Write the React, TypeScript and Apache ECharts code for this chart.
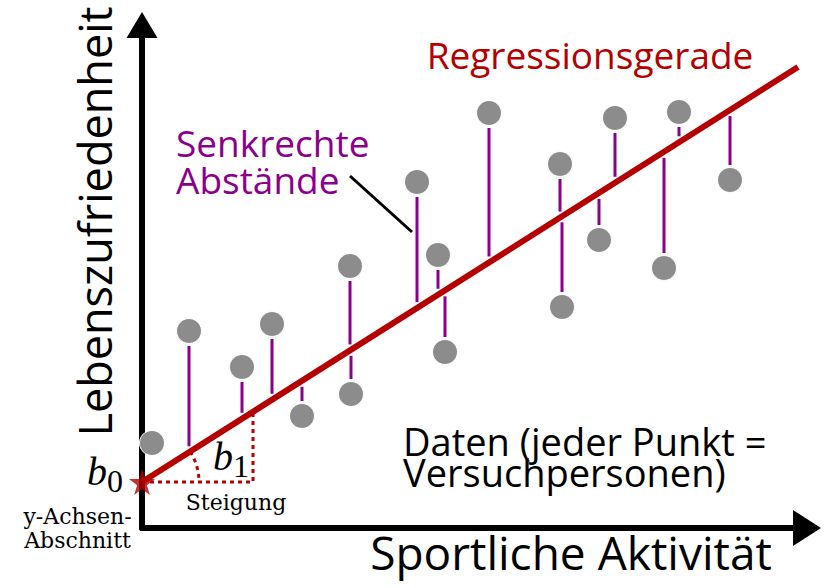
import React, { useEffect, useRef } from "react";
import * as echarts from "echarts";

// Data (illustrative units: activity on x, life satisfaction on y)
const pointX = [10, 47, 100, 130, 160, 208, 209, 275, 296, 303, 347, 418, 420, 457, 473, 522, 537, 588];
const pointY = [85, 197, 161, 204, 112, 262, 134, 346, 273, 176, 415, 364, 221, 288, 410, 260, 416, 348];
const stemFlags = [0, 1, 1, 1, 1, 1, 1, 1, 1, 1, 1, 1, 1, 1, 1, 1, 1, 1];
const intercept = 46; // b0
const slope = 0.6326; // b1
const regLineX = [0, 656];
const slopeTriangleX = [0, 111];
const xRange = [0, 665];
const yRange = [0, 503];

const RED = "#b40000";
const PURPLE = "#8b008b";
const GRAY = "#8c8c8c";
const SANS = "'Open Sans', sans-serif";
const SERIF = "'DejaVu Serif', serif";
const LSERIF = "'Liberation Serif', serif";

const fit = (x: number) => intercept + slope * x;

export default function App() {
  const ref = useRef<HTMLDivElement>(null);
  useEffect(() => {
    if (!ref.current) return;
    const chart = echarts.init(ref.current, null, { renderer: "svg" });
    const points = pointX.map((x, i) => [x, pointY[i]]);
    const stems = points.filter((_, i) => stemFlags[i]);
    const regLine = regLineX.map((x) => [x, fit(x)]);
    const tri = [
      [slopeTriangleX[0], intercept],
      [slopeTriangleX[1], intercept],
      [slopeTriangleX[1], fit(slopeTriangleX[1])],
    ];
    const starPath =
      "path://M50,0 L61,35 L98,35 L68,57 L79,91 L50,70 L21,91 L32,57 L2,35 L39,35 Z";

    const txt = (
      text: string,
      x: number,
      y: number,
      size: number,
      fill: string,
      align: string,
      family = SANS,
      extra: any = {}
    ) => ({
      type: "text",
      x,
      y,
      silent: true,
      rotation: extra.rotation || 0,
      style: {
        text,
        fill,
        fontSize: size,
        fontFamily: family,
        fontStyle: extra.fontStyle || "normal",
        lineHeight: extra.lineHeight,
        textAlign: align,
        textVerticalAlign: "middle",
        verticalAlign: "middle",
      },
    });

    chart.setOption({
      animation: false,
      grid: { left: 142, right: 20, top: 25, bottom: 60, containLabel: false },
      xAxis: {
        type: "value",
        min: xRange[0],
        max: xRange[1],
        axisLine: {
          show: true,
          lineStyle: { color: "#000", width: 6 },
          symbol: ["none", "triangle"],
          symbolSize: [36, 28],
        },
        axisTick: { show: false },
        axisLabel: { show: false },
        splitLine: { show: false },
      },
      yAxis: {
        type: "value",
        min: yRange[0],
        max: yRange[1],
        axisLine: {
          show: true,
          lineStyle: { color: "#000", width: 6 },
          symbol: ["none", "triangle"],
          symbolSize: [31, 26],
        },
        axisTick: { show: false },
        axisLabel: { show: false },
        splitLine: { show: false },
      },
      series: [
        {
          type: "custom",
          name: "stems",
          data: stems,
          z: 2,
          renderItem: (params: any, api: any) => {
            const x = api.value(0);
            const y = api.value(1);
            const p = api.coord([x, y]);
            const f = api.coord([x, fit(x)]);
            const above = p[1] < f[1];
            const y1 = above ? p[1] + 15 : p[1] - 15;
            const y2 = above ? f[1] - 6 : f[1] + 6;
            return {
              type: "line",
              shape: { x1: p[0], y1, x2: p[0], y2 },
              style: { stroke: PURPLE, lineWidth: 3 },
            };
          },
        },
        {
          type: "line",
          name: "slope",
          data: tri,
          symbol: "none",
          z: 3,
          lineStyle: { color: RED, width: 3, type: [4, 4] },
        },
        {
          type: "custom",
          name: "angle",
          data: [[0, intercept]],
          z: 3,
          renderItem: (params: any, api: any) => {
            const c = api.coord([api.value(0), api.value(1)]);
            return {
              type: "arc",
              shape: {
                cx: c[0],
                cy: c[1],
                r: 57,
                startAngle: -Math.atan(slope),
                endAngle: 0,
              },
              style: { stroke: RED, lineWidth: 3, fill: "none", lineDash: [4, 4] },
            };
          },
        },
        {
          type: "line",
          name: "Regressionsgerade",
          data: regLine,
          symbol: "none",
          z: 4,
          lineStyle: { color: RED, width: 6, cap: "butt" },
        },
        {
          type: "scatter",
          name: "Daten",
          data: points,
          symbol: "circle",
          symbolSize: 25,
          z: 5,
          itemStyle: { color: GRAY, borderColor: "#ffffff", borderWidth: 1, opacity: 1 },
        },
        {
          type: "scatter",
          name: "b0",
          data: [[0, intercept]],
          symbol: starPath,
          symbolSize: 26,
          z: 6,
          itemStyle: { color: RED },
        },
      ],
      graphic: [
        txt("Regressionsgerade", 590, 54.6, 37, RED, "center"),
        txt("Senkrechte\nAbstände", 176, 161, 37, PURPLE, "left", SANS, { lineHeight: 37 }),
        {
          type: "line",
          silent: true,
          shape: { x1: 350, y1: 176, x2: 412, y2: 232 },
          style: { stroke: "#000", lineWidth: 3 },
        },
        txt("Daten (jeder Punkt =\nVersuchpersonen)", 403, 456, 38, "#000", "left", SANS, {
          lineHeight: 31,
        }),
        txt("Sportliche Aktivität", 571, 552, 46, "#000", "center"),
        txt("Lebenszufriedenheit", 94, 221.5, 45, "#000", "center", SANS, {
          rotation: Math.PI / 2,
        }),
        txt("b", 107, 471.5, 40, "#000", "right", LSERIF, { fontStyle: "italic" }),
        txt("0", 107, 481.2, 32, "#000", "left", LSERIF),
        txt("b", 213, 456.5, 40, "#000", "left", LSERIF, { fontStyle: "italic" }),
        txt("1", 233, 466.2, 32, "#000", "left", LSERIF),
        txt("Steigung", 236, 502.4, 22, "#000", "center", SERIF),
        txt("y-Achsen-", 77.5, 516.4, 22, "#000", "center", SERIF),
        txt("Abschnitt", 77.5, 540.4, 22, "#000", "center", SERIF),
      ],
    });
    return () => chart.dispose();
  }, []);
  return (
    <div
      ref={ref}
      style={{ position: "fixed", left: 0, top: 0, width: 827, height: 588, background: "#fff" }}
    />
  );
}
